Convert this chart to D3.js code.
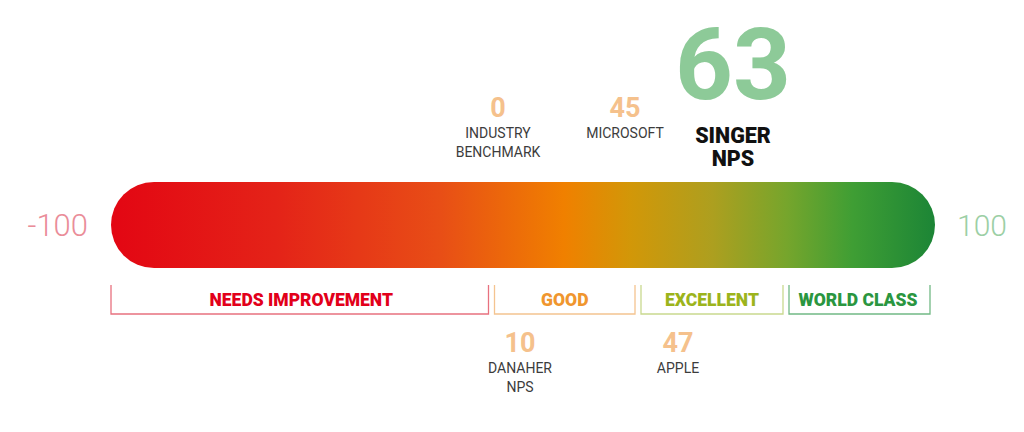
<!DOCTYPE html>
<html>
<head>
<meta charset="utf-8">
<script src="https://cdn.jsdelivr.net/npm/d3@7"></script>
<style>
  html, body { margin: 0; padding: 0; background: #ffffff; }
  svg { display: block; }
</style>
</head>
<body>
<svg id="chart" width="1024" height="432"></svg>
<script>
// ---- data ----
const scaleEnds = [-100, 100];
const segmentNames = ["NEEDS IMPROVEMENT", "GOOD", "EXCELLENT", "WORLD CLASS"];
const segmentBounds = [-100, 0, 30, 70, 100];
const topNames = [["INDUSTRY", "BENCHMARK"], ["MICROSOFT"], ["SINGER", "NPS"]];
const topValues = [0, 45, 63];
const bottomNames = [["DANAHER", "NPS"], ["APPLE"]];
const bottomValues = [10, 47];

// ---- styles ----
const segTextColors = ["#e2001a", "#f0962e", "#9cb41c", "#2a9640"];
const segLineColors = ["#e8717f", "#f4c490", "#c9d98f", "#72b985"];
const font = "Roboto, 'DejaVu Sans', sans-serif";

const svg = d3.select("#chart");

// bar scale (full -100..100 track)
const xBar = d3.scaleLinear().domain(scaleEnds).range([111, 935]);
// bracket scale: infographic (non-proportional) segments
const xSeg = d3.scaleLinear().domain(segmentBounds).range([111, 491.5, 638, 786, 930]);
// annotation scale (infographic placement of callouts)
const xAnn = d3.scaleLinear()
  .domain([-100, 0, 10, 45, 47, 63, 100])
  .range([111, 498, 520, 625, 678, 733, 930]);

// gradient
const defs = svg.append("defs");
const grad = defs.append("linearGradient").attr("id", "npsGrad")
  .attr("x1", "0%").attr("x2", "100%").attr("y1", "0%").attr("y2", "0%");
const stops = [
  [0, "#e30613"], [0.2, "#e42318"], [0.4, "#e84e16"], [0.55, "#f08000"],
  [0.63, "#d29708"], [0.73, "#ad9f1f"], [0.82, "#76a52c"], [0.9, "#3f9e34"], [1, "#1c8536"]
];
grad.selectAll("stop").data(stops).join("stop")
  .attr("offset", d => d[0]).attr("stop-color", d => d[1]);

const barTop = 182, barH = 86;
svg.append("rect")
  .attr("x", xBar(scaleEnds[0])).attr("y", barTop)
  .attr("width", xBar(scaleEnds[1]) - xBar(scaleEnds[0])).attr("height", barH)
  .attr("rx", barH / 2).attr("ry", barH / 2)
  .attr("fill", "url(#npsGrad)");

// end labels
svg.append("text").attr("x", xBar(scaleEnds[0]) - 23).attr("y", barTop + barH / 2 + 11)
  .attr("text-anchor", "end").attr("font-family", font).attr("font-weight", 300)
  .attr("font-size", 31).attr("fill", "#ea8d99").text(scaleEnds[0]);
svg.append("text").attr("x", xBar(scaleEnds[1]) + 22).attr("y", barTop + barH / 2 + 11)
  .attr("text-anchor", "start").attr("font-family", font).attr("font-weight", 300)
  .attr("font-size", 30).attr("fill", "#9ccfa5").text(scaleEnds[1]);

// brackets
const segs = segmentNames.map((name, i) => ({
  name, lo: segmentBounds[i], hi: segmentBounds[i + 1], i
}));
const bTop = 285, bBot = 314, gap = 3;
const bg = svg.append("g");
bg.selectAll("path").data(segs).join("path")
  .attr("d", d => {
    const x0 = xSeg(d.lo) + (d.i === 0 ? 0 : gap);
    const x1 = xSeg(d.hi) - (d.i === segs.length - 1 ? 0 : gap);
    return `M${x0},${bTop}V${bBot}H${x1}V${bTop}`;
  })
  .attr("fill", "none").attr("stroke", d => segLineColors[d.i]).attr("stroke-width", 1.3);
bg.selectAll("text").data(segs).join("text")
  .attr("x", d => (xSeg(d.lo) + xSeg(d.hi)) / 2).attr("y", 306)
  .attr("text-anchor", "middle").attr("font-family", font).attr("font-weight", 900)
  .attr("font-size", 17.5).attr("fill", d => segTextColors[d.i]).text(d => d.name);

// multi-line text helper (one text element, tspans)
function multiline(sel, lines, y0, lh) {
  sel.selectAll("tspan").data(lines).join("tspan")
    .attr("x", 0).attr("y", (n, j) => y0 + j * lh).text(n => n);
}

// top callouts
const topData = topValues.map((v, i) => ({ v, names: topNames[i], big: v === d3.max(topValues) }));
const tg = svg.append("g").selectAll("g").data(topData).join("g")
  .attr("transform", d => `translate(${xAnn(d.v)},0)`);
tg.append("text").attr("text-anchor", "middle").attr("font-family", font).attr("font-weight", 700)
  .attr("y", d => d.big ? 98.5 : 117)
  .attr("font-size", d => d.big ? 101 : 27)
  .attr("fill", d => d.big ? "#8dca98" : "#f5c18c")
  .text(d => d.v);
tg.append("text").attr("text-anchor", "middle").attr("font-family", font)
  .attr("font-weight", d => d.big ? 900 : 400)
  .attr("font-size", d => d.big ? 21.5 : 14)
  .attr("fill", d => d.big ? "#111111" : "#3c3c3c")
  .each(function(d) {
    multiline(d3.select(this), d.names, d.big ? 143 : 138, d.big ? 23 : 19);
  });

// bottom callouts
const botData = bottomValues.map((v, i) => ({ v, names: bottomNames[i] }));
const btg = svg.append("g").selectAll("g").data(botData).join("g")
  .attr("transform", d => `translate(${xAnn(d.v)},0)`);
btg.append("text").attr("text-anchor", "middle").attr("font-family", font).attr("font-weight", 700)
  .attr("y", 352).attr("font-size", 27).attr("fill", "#f5c18c").text(d => d.v);
btg.append("text").attr("text-anchor", "middle").attr("font-family", font).attr("font-weight", 400)
  .attr("font-size", 14).attr("fill", "#3c3c3c")
  .each(function(d) { multiline(d3.select(this), d.names, 373, 19); });
</script>
</body>
</html>
